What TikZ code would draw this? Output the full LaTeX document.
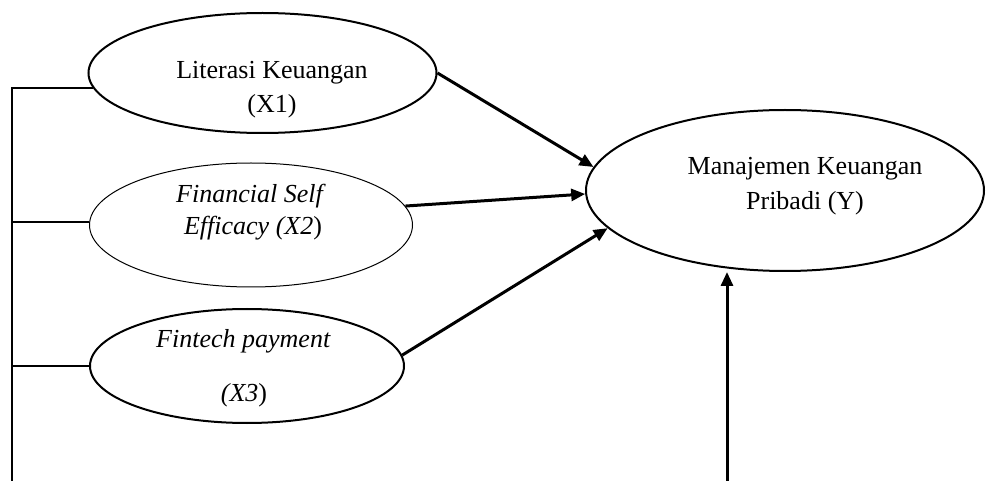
\documentclass[tikz,border=0pt]{standalone}
\usepackage{fontspec}
\setmainfont{Liberation Serif}
\usetikzlibrary{shapes.geometric,arrows.meta}
\begin{document}
\begin{tikzpicture}[x=1pt,y=-1pt,
  lat/.style={ellipse,draw,inner sep=0pt,line width=#1},
  lbl/.style={anchor=base,inner sep=0pt,font=\fontsize{26}{34}\selectfont},
  arr/.style={line width=3pt,-{Triangle[length=14pt,width=12pt]}},
  brk/.style={line width=2pt}]
\useasboundingbox (0,0) rectangle (986,481);
% latent variables
\node[lat=2pt,minimum width=348pt,minimum height=120pt] (x1) at (262.5,73) {};
\node[lat=1pt,minimum width=323pt,minimum height=124pt] (x2) at (251,225) {};
\node[lat=2pt,minimum width=314pt,minimum height=114pt] (x3) at (247,366) {};
\node[lat=2pt,minimum width=398pt,minimum height=161pt] (y) at (785,190.5) {};
% labels
\node[lbl] (t1a) at (272,79) {Literasi Keuangan};
\node[lbl] (t1b) at (272,113) {(X1)};
\node[lbl] (t2a) at (251,203) {\textit{Financial Self}};
\node[lbl] (t2b) at (253,235) {\textit{Efficacy (X2})};
\node[lbl] (t3a) at (243.5,347) {\textit{Fintech payment}};
\node[lbl] (t3b) at (244,401) {\textit{(X3})};
\node[lbl] (ya) at (805,175) {Manajemen Keuangan};
\node[lbl] (yb) at (805,210) {Pribadi (Y)};
% arrows
\draw[arr] (x1.east) -- (y.173);
\draw[arr] (x2.7) -- (y.181);
\draw[arr] (x3.4) -- (y.192);
\coordinate (ybot) at (727,481);
\draw[arr] (ybot) -- (ybot |- y.south);
% bracket
\coordinate (bar) at (12,0);
\coordinate (barbot) at (12,481);
\draw[brk] (barbot) -- (bar |- x1.185) -- (x1.185);
\draw[brk] (bar |- x2.179) -- (x2.179);
\draw[brk] (bar |- x3.west) -- (x3.west);
\end{tikzpicture}
\end{document}
